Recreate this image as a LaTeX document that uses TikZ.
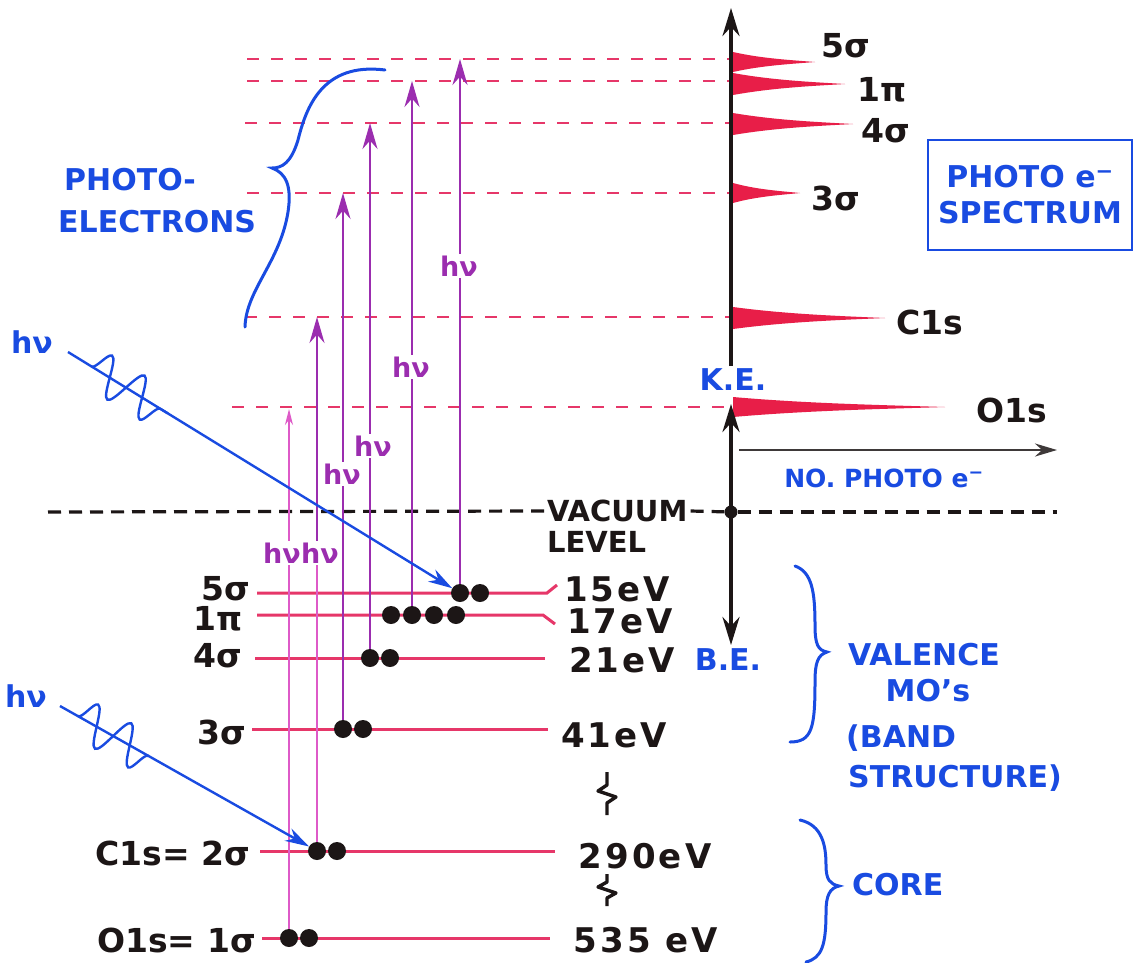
\documentclass[tikz,border=0pt]{standalone}
\usepackage{fontspec}
\setmainfont{DejaVu Sans}
\newfontfamily\enfont[LetterSpace=9]{DejaVu Sans}
\usetikzlibrary{arrows.meta,decorations.pathmorphing,calc}
\definecolor{lvlc}{RGB}{230,55,105}
\definecolor{pkc}{RGB}{232,30,72}
\definecolor{purc}{RGB}{155,45,175}
\definecolor{lpurc}{RGB}{222,90,200}
\definecolor{blc}{RGB}{25,75,225}
\definecolor{inkc}{RGB}{28,22,22}
\newcommand\fbig{\fontsize{33}{35}\selectfont\bfseries}
\newcommand\fen{\enfont\fontsize{34}{36}\selectfont\bfseries}
\newcommand\fvac{\fontsize{29}{31}\selectfont\bfseries}
\newcommand\fblue{\fontsize{30}{36}\selectfont\bfseries}
\newcommand\fsmallblue{\fontsize{25}{30}\selectfont\bfseries}
\newcommand\fhv{\fontsize{27}{28}\selectfont\bfseries}
\newcommand\fhvb{\fontsize{30}{30}\selectfont\bfseries}
\newcommand\specpeak[3]{\fill[pkc] (733,{#1-#3}) .. controls ({733+0.35*(#2-733)},{#1-0.35*#3}) and ({733+0.7*(#2-733)},{#1-2}) .. (#2,#1) .. controls ({733+0.7*(#2-733)},{#1+2}) and ({733+0.35*(#2-733)},{#1+0.35*#3}) .. (733,{#1+#3}) -- cycle;}
\begin{document}
\begin{tikzpicture}[x=1pt,y=-1pt,
  lvl/.style={draw=lvlc,line width=3pt},
  ke/.style={draw=lvlc,line width=2.4pt,dash pattern=on 12pt off 12pt},
  vac/.style={draw=inkc,line width=3.2pt,dash pattern=on 13pt off 8pt},
  elec/.style={circle,fill=inkc,minimum size=18pt,inner sep=0pt},
  exc/.style={draw=purc,line width=2.2pt,-{Stealth[length=26pt,width=15pt]}},
  excl/.style={draw=purc,line width=1.8pt},
  corel/.style={draw=lpurc,line width=1.4pt},
  hvp/.style={text=purc,font=\fhv,inner sep=2pt},
  lab/.style={text=inkc,font=\fbig,inner sep=0pt},
  enlab/.style={text=inkc,font=\fen,inner sep=0pt},
  blab/.style={text=blc,font=\fblue,inner sep=0pt,align=left},
  ph/.style={draw=blc,line width=2.4pt},
  axis/.style={draw=inkc,line width=3.6pt},
  brace/.style={draw=blc,line width=3pt,line cap=round}]
\useasboundingbox (0,0) rectangle (1134,962);
\fill[white] (0,0) rectangle (1134,962);

% kinetic energy levels (dashed)
\foreach \yy/\xs in {59/247,81/247,123/245,193/247,317/245,407/232}
  \draw[ke] (\xs,\yy) -- (729,\yy);

% spectrum peaks
\specpeak{62}{815}{10}
\specpeak{84}{845}{11}
\specpeak{124}{853}{11}
\specpeak{193}{800}{10}
\specpeak{318}{885}{11}
\specpeak{407}{945}{10}

% spectrum labels
\node[lab] (s5) at (846,46) {5σ};
\node[lab] (s1) at (882,90) {1π};
\node[lab] (s4) at (886,131) {4σ};
\node[lab] (s3) at (836,198) {3σ};
\node[lab] (sC) at (930,322) {C1s};
\node[lab] (sO) at (1012,410) {O1s};

% photo e spectrum box
\node[blab,align=center,draw=blc,line width=2.4pt,minimum width=204pt,minimum height=110pt] (box) at (1030,195) {PHOTO e\textsuperscript{−}\\SPECTRUM};

% axes
\coordinate (axtop) at (731,8);
\coordinate (axbot) at (731,366);
\draw[axis,-{Stealth[length=28pt,width=17pt]}] (axbot) -- (axtop);
\node[text=blc,font=\fblue] (KE) at (733,380) {K.E.};
\coordinate (beT) at (731,404);
\coordinate (beB) at (731,645);
\draw[axis,{Stealth[length=28pt,width=17pt]}-{Stealth[length=28pt,width=17pt]}] (beB) -- (beT);
\node[circle,fill=inkc,minimum size=13pt,inner sep=0pt] (vdot) at (731,512) {};
\coordinate (n0) at (739,450);
\coordinate (n1) at (1057,450);
\draw[draw=inkc!85,line width=2.6pt,-{Stealth[length=22pt,width=13pt]}] (n0) -- (n1);
\node[text=blc,font=\fsmallblue] (nope) at (884,478) {NO. PHOTO e\textsuperscript{−}};

% vacuum level
\node[text=inkc,font=\fvac,anchor=west,inner sep=0pt] (vac) at (547,511) {VACUUM};
\node[text=inkc,font=\fvac,anchor=west,inner sep=0pt] (lev) at (547,542) {LEVEL};
\coordinate (v0) at (48,512);
\coordinate (v1) at (1057,512);
\draw[vac] (v0) -- ([xshift=-3pt]vac.west);
\draw[vac] ([xshift=3pt]vac.east) -- (vdot);
\draw[vac] (vdot) -- (v1);

% bound levels
\draw[lvl] (257,593) -- (547,593) -- (557,585);
\draw[lvl] (257,615) -- (543,615) -- (555,624);
\draw[lvl] (255,658) -- (545,658);
\draw[lvl] (252,729) -- (548,729);
\draw[lvl] (260,851) -- (555,851);
\draw[lvl] (262,938) -- (550,938);

% level labels
\node[lab] (l5) at (226,589) {5σ};
\node[lab] (l1) at (218,619) {1π};
\node[lab] (l4) at (218,656) {4σ};
\node[lab] (l3) at (222,732) {3σ};
\node[lab,anchor=east] (lC) at (250,853) {C1s= 2σ};
\node[lab,anchor=east] (lO) at (256,940) {O1s= 1σ};

% energies
\node[enlab] (E15) at (617,589) {15eV};
\node[enlab] (E17) at (620,621) {17eV};
\node[enlab] (E21) at (622,660) {21eV};
\node[enlab] (E41) at (614,735) {41eV};
\node[enlab] (E290) at (645,856) {290eV};
\node[enlab] (E535) at (646,940) {535 eV};
\draw[inkc,line width=3.4pt,line join=round] (607,772) -- (607,785) -- (598,791) -- (616,797) -- (607,803) -- (607,815);
\draw[inkc,line width=3.4pt,line join=round] (607,874) -- (607,882) -- (598,887) -- (616,893) -- (607,898) -- (607,906);
\node[text=blc,font=\fblue] (BE) at (728,660) {B.E.};

% electrons
\node[elec] (e5a) at (460,593) {};
\node[elec] (e5b) at (480,593) {};
\node[elec] (e1a) at (391,615) {};
\node[elec] (e1b) at (412,615) {};
\node[elec] (e1c) at (434,615) {};
\node[elec] (e1d) at (456,615) {};
\node[elec] (e4a) at (370,658) {};
\node[elec] (e4b) at (390,658) {};
\node[elec] (e3a) at (343,729) {};
\node[elec] (e3b) at (363,729) {};
\node[elec] (e2a) at (317,851) {};
\node[elec] (e2b) at (337,851) {};
\node[elec] (e0a) at (289,938) {};
\node[elec] (e0b) at (309,938) {};

% excitations
\coordinate (t0) at (289,409);
\coordinate (t2) at (317,317);
\coordinate (t3) at (343,193);
\coordinate (t4) at (370,123);
\coordinate (t1) at (412,81);
\coordinate (t5) at (460,59);
\node[hvp] (h0) at (282,553) {hν};
\node[hvp] (h2) at (320,553) {hν};
\node[hvp] (h3) at (342,474) {hν};
\node[hvp] (h4) at (373,446) {hν};
\node[hvp] (h1) at (411,367) {hν};
\node[hvp] (h5) at (459,266) {hν};
\draw[corel] (e0a) -- (e0a |- h0.south);
\draw[corel,-{Stealth[length=16pt,width=8pt]}] (e0a |- h0.north) -- (t0);
\draw[corel] (e2a) -- (e2a |- h2.south);
\draw[exc] (e2a |- h2.north) -- (t2);
\draw[excl] (e3a) -- (e3a |- h3.south);
\draw[exc] (e3a |- h3.north) -- (t3);
\draw[excl] (e4a) -- (e4a |- h4.south);
\draw[exc] (e4a |- h4.north) -- (t4);
\draw[excl] (e1b) -- (e1b |- h1.south);
\draw[exc] (e1b |- h1.north) -- (t1);
\draw[excl] (e5a) -- (e5a |- h5.south);
\draw[exc] (e5a |- h5.north) -- (t5);

% incoming photons
\node[text=blc,font=\fhvb] (hvA) at (32,342) {hν};
\coordinate (pA) at (68,352);
\draw[ph,-{Stealth[length=24pt,width=14pt]}] (pA) -- (e5a);
\draw[ph,decorate,decoration={snake,amplitude=20pt,segment length=38pt}] ($(pA)!0.06!(e5a)$) -- ($(pA)!0.255!(e5a)$);
\node[text=blc,font=\fhvb] (hvB) at (26,696) {hν};
\coordinate (pB) at (60,706);
\draw[ph,-{Stealth[length=24pt,width=14pt]}] (pB) -- (e2a);
\draw[ph,decorate,decoration={snake,amplitude=20pt,segment length=38pt}] ($(pB)!0.07!(e2a)$) -- ($(pB)!0.345!(e2a)$);

% braces and blue labels
\draw[brace] (385,70) .. controls (322,62) and (306,108) .. (298,140) .. controls (291,163) and (282,168) .. (272,168) .. controls (286,173) and (292,186) .. (288,212) .. controls (280,262) and (246,290) .. (245,327);
\node[blab,anchor=west] (pe1) at (64,180) {PHOTO-};
\node[blab,anchor=west] (pe2) at (58,222) {ELECTRONS};
\draw[brace] (795,566) .. controls (812,572) and (815,592) .. (815,625) .. controls (815,645) and (818,650) .. (827,652) .. controls (818,655) and (815,662) .. (815,682) .. controls (815,728) and (812,742) .. (790,742);
\node[blab,anchor=west] (val) at (848,655) {VALENCE};
\node[blab] (mos) at (928,691) {MO's};
\node[blab,anchor=west] (band) at (846,738) {(BAND};
\node[blab,anchor=west] (str) at (848,778) {STRUCTURE)};
\draw[brace] (800,820) .. controls (822,825) and (826,845) .. (826,865) .. controls (826,880) and (830,884) .. (839,886) .. controls (830,888) and (826,895) .. (826,912) .. controls (826,945) and (822,958) .. (806,962);
\node[blab,anchor=west] (core) at (852,885) {CORE};
\end{tikzpicture}
\end{document}
